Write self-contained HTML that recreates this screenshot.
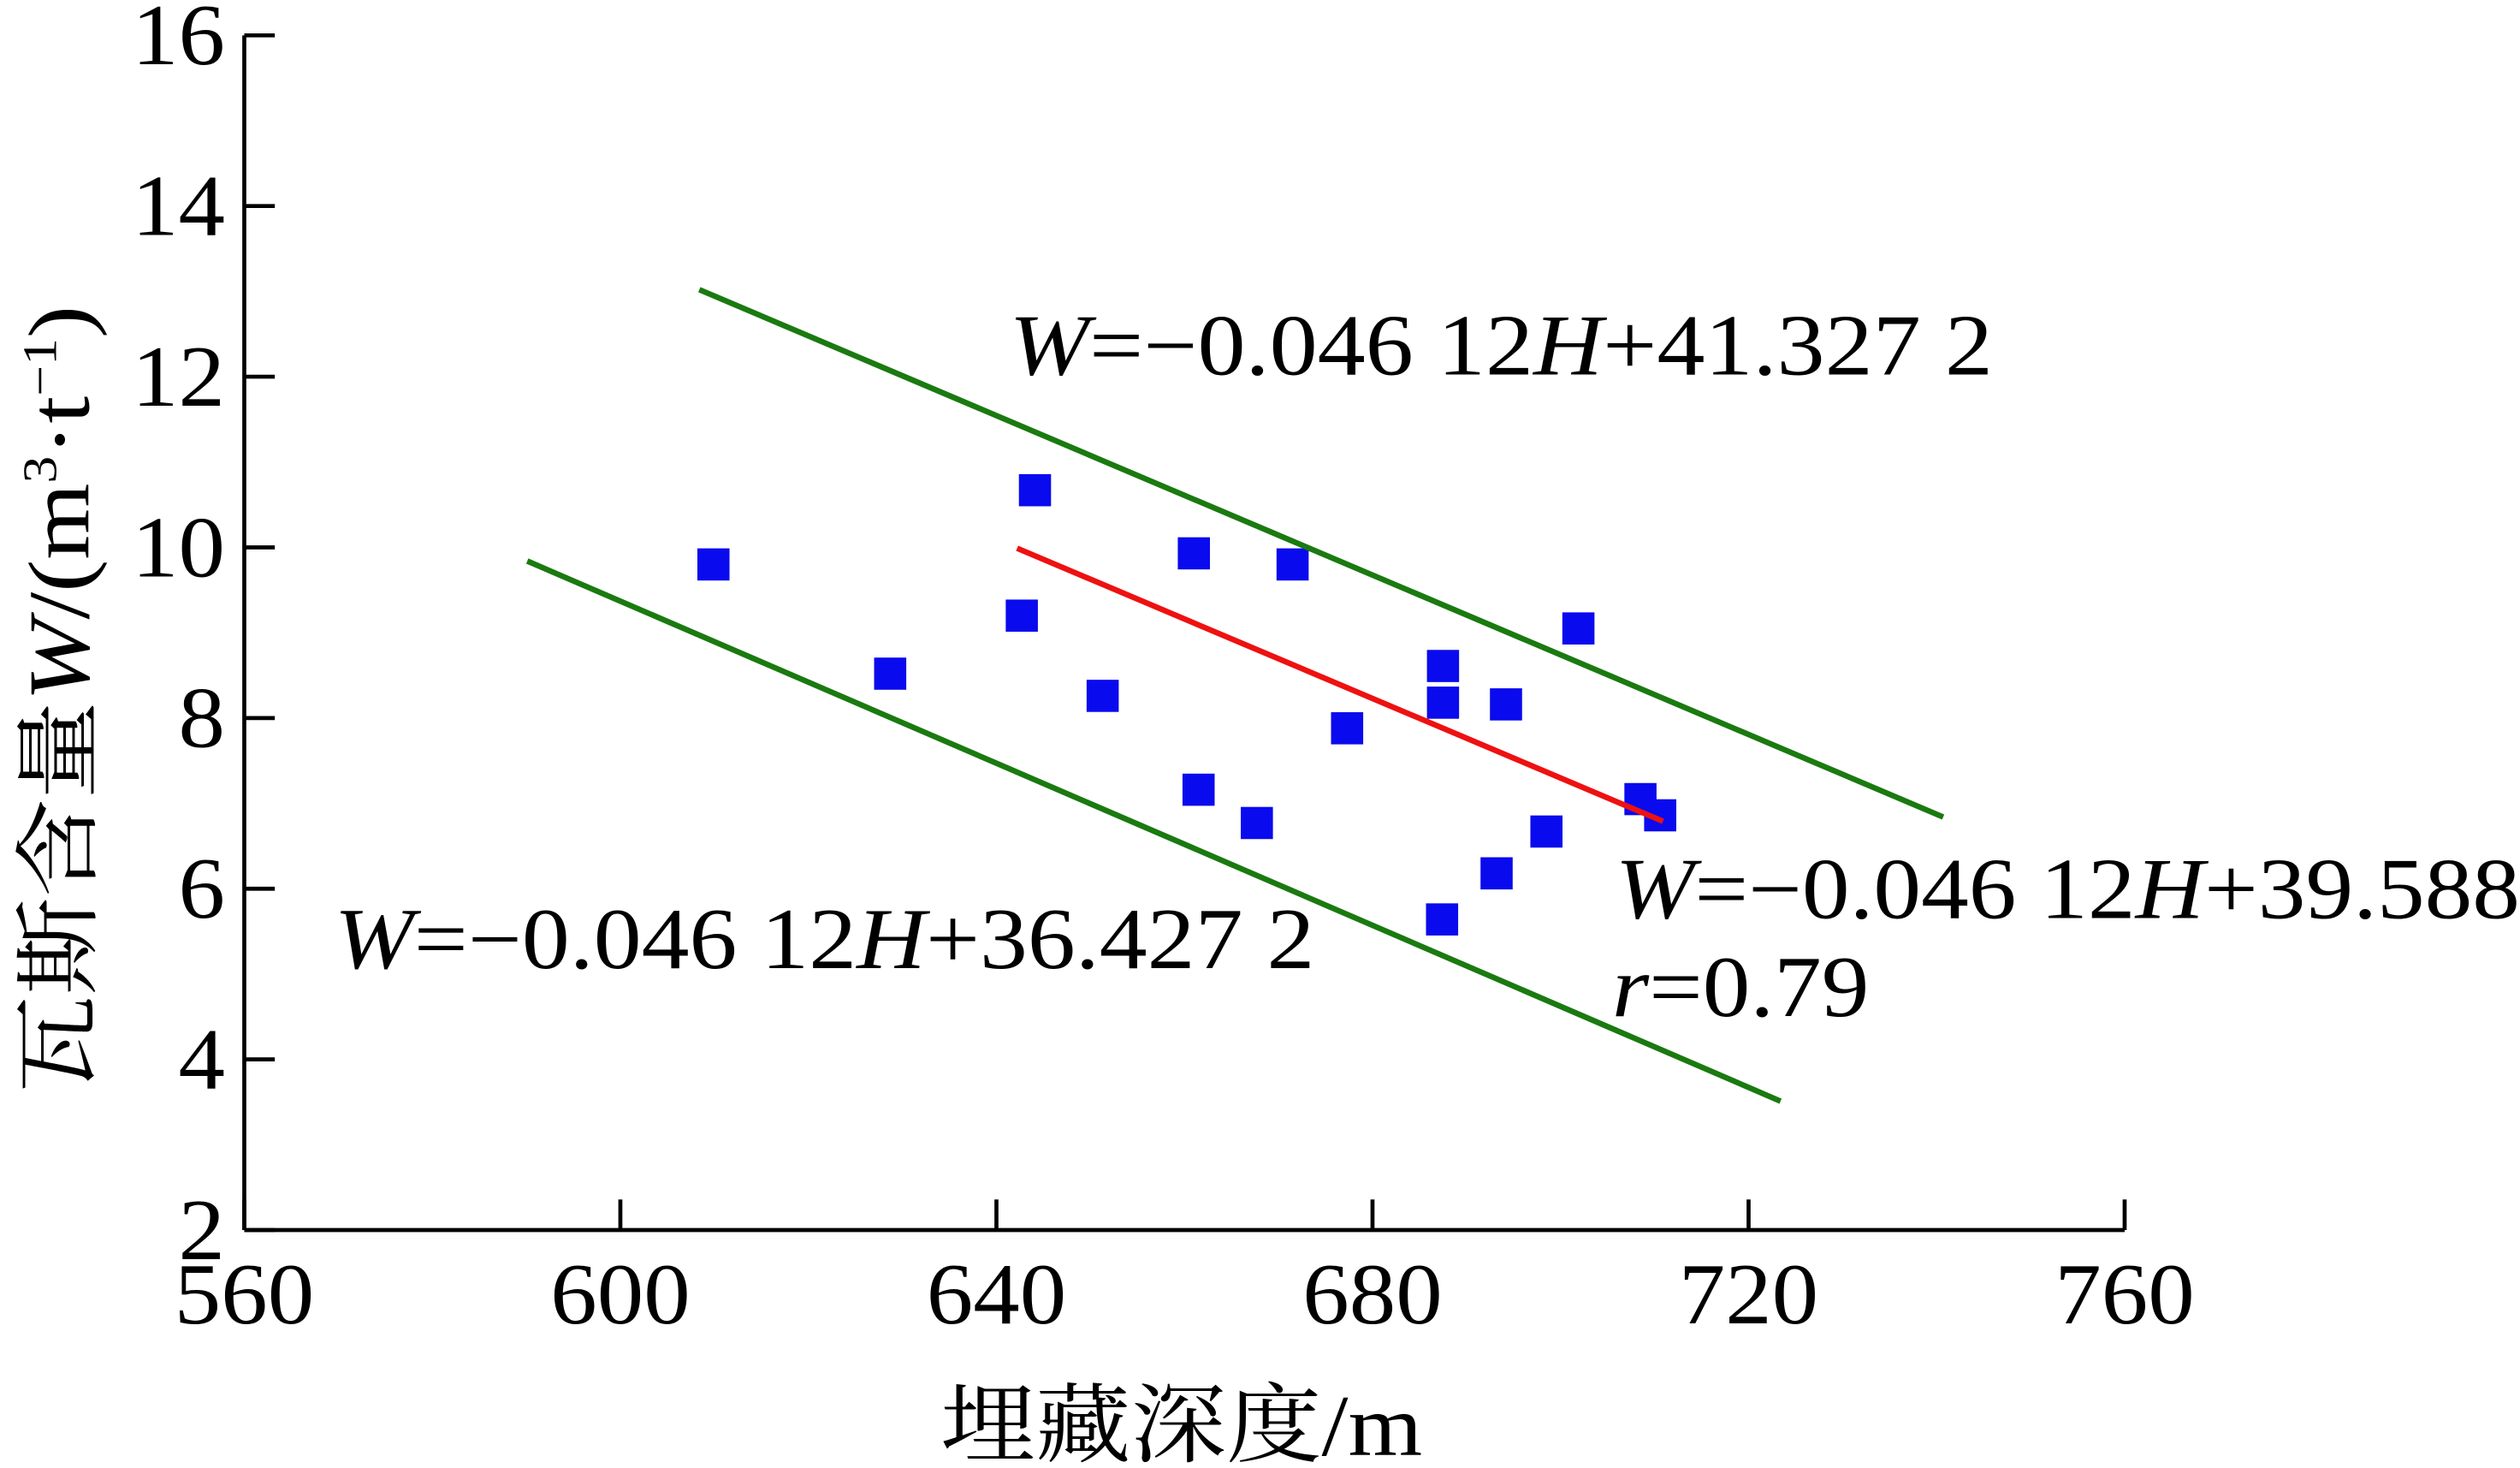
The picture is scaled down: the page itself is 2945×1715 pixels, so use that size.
<!DOCTYPE html>
<html><head><meta charset="utf-8"><style>
html,body{margin:0;padding:0;background:#fff}
svg{display:block}
text{font-family:"Liberation Serif","Noto Serif CJK SC",serif;fill:#000}
</style></head><body>
<svg width="2945" height="1715" viewBox="0 0 1568 913" preserveAspectRatio="none" xmlns="http://www.w3.org/2000/svg">
<g id="axes"></g>
<g id="pts"></g>
<g id="lines"></g>
<text x="628" y="233" font-size="54" textLength="612" lengthAdjust="spacingAndGlyphs"><tspan font-style="italic">W</tspan>=−0.046 12<tspan font-style="italic">H</tspan>+41.327 2</text>
<text x="208" y="602" font-size="54" textLength="610" lengthAdjust="spacingAndGlyphs"><tspan font-style="italic">W</tspan>=−0.046 12<tspan font-style="italic">H</tspan>+36.427 2</text>
<text x="1005" y="571" font-size="54" textLength="563" lengthAdjust="spacingAndGlyphs"><tspan font-style="italic">W</tspan>=−0.046 12<tspan font-style="italic">H</tspan>+39.588</text>
<text x="1003" y="632" font-size="54" textLength="160" lengthAdjust="spacingAndGlyphs"><tspan font-style="italic">r</tspan>=0.79</text>
<text x="585" y="905" font-size="54" textLength="300" lengthAdjust="spacingAndGlyphs">埋藏深度/m</text>
<text transform="translate(55,680) rotate(-90)" font-size="54" textLength="490" lengthAdjust="spacingAndGlyphs">瓦斯含量<tspan font-style="italic">W</tspan>/(m<tspan font-size="30" dy="-20">3</tspan><tspan dy="20">·t</tspan><tspan font-size="30" dy="-20">−1</tspan><tspan dy="20">)</tspan></text>
</svg>
<script>
const xTicks=[560,600,640,680,720,760];
const yTicks=[2,4,6,8,10,12,14,16];
const depth=[609.9,628.7,644.1,642.7,651.3,661.0,661.5,667.7,671.5,677.3,687.5,687.5,687.4,694.2,693.2,698.5,701.9,708.5,710.6];
const gas=[9.80,8.52,10.67,9.20,8.26,9.93,7.16,6.77,9.80,7.88,8.61,8.18,5.64,8.16,6.18,6.67,9.05,7.05,6.86];
const upperLine=[[608.4,13.02],[740.7,6.84]];
const lowerLine=[[590.1,9.84],[723.4,3.51]];
const fitLine=[[642.2,9.99],[710.9,6.79]];
const NS="http://www.w3.org/2000/svg";
const X=v=>152+(v-560)*(1170/200);
const Y=v=>765-(v-2)*(743/14);
function mk(t,a,p){const e=document.createElementNS(NS,t);for(const k in a)e.setAttribute(k,a[k]);p.appendChild(e);return e;}
const ax=document.getElementById('axes');
let e=mk('line',{x1:152,y1:Y(16),x2:152,y2:765,stroke:'#000','stroke-width':2.5},ax);


e=mk('line',{x1:152,y1:765,x2:X(760),y2:765,stroke:'#000','stroke-width':2.5},ax);


xTicks.forEach(v=>{
 let t=mk('line',{x1:X(v),y1:765,x2:X(v),y2:746,stroke:'#000','stroke-width':2.5},ax);
 
 
 let l=mk('text',{x:X(v),y:823,'font-size':54,'text-anchor':'middle',textLength:87,lengthAdjust:'spacingAndGlyphs'},ax);l.textContent=v;
 
 
});
yTicks.forEach(v=>{
 let t=mk('line',{x1:152,y1:Y(v),x2:171,y2:Y(v),stroke:'#000','stroke-width':2.5},ax);
 
 
 let s=String(v);
 let l=mk('text',{x:140,y:Y(v)+18,'font-size':54,'text-anchor':'end',textLength:29*s.length,lengthAdjust:'spacingAndGlyphs'},ax);l.textContent=s;
 
 
});
const pg=document.getElementById('pts');
depth.forEach((d,i)=>{
 let r=mk('rect',{x:X(d)-10,y:Y(gas[i])-10,width:20,height:20,fill:'#0a0aee'},pg);
 
 
});
const lg=document.getElementById('lines');
[[upperLine,'#1a7a10','upper-bound-line'],[lowerLine,'#1a7a10','lower-bound-line'],[fitLine,'#ee1111','fit-line']].forEach(([d,c,n])=>{
 let l=mk('line',{x1:X(d[0][0]),y1:Y(d[0][1]),x2:X(d[1][0]),y2:Y(d[1][1]),stroke:c,'stroke-width':3.5},lg);
 
 
});
</script>
</body></html>
